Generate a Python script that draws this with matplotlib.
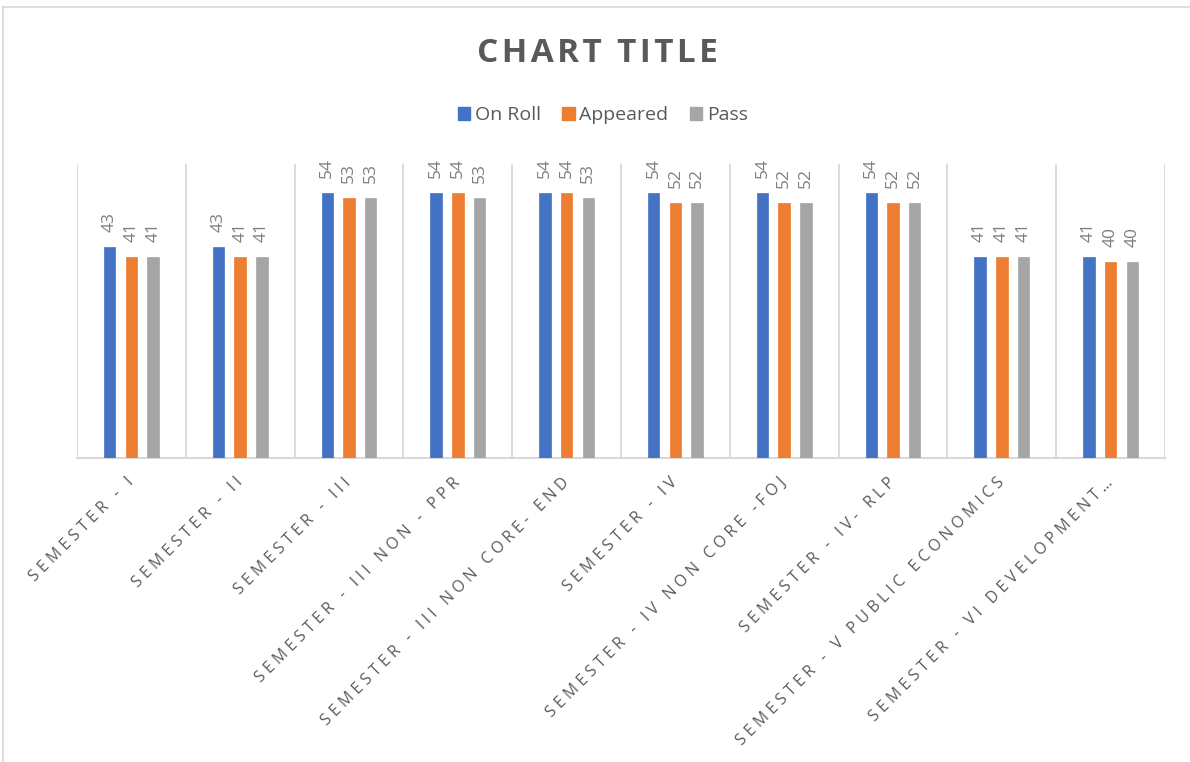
import matplotlib
matplotlib.use("Agg")
import matplotlib.pyplot as plt
import numpy as np
from matplotlib.patches import Patch
from matplotlib.lines import Line2D

plt.rcParams['font.family'] = ['Open Sans', 'DejaVu Sans']

categories = [
    "SEMESTER - I",
    "SEMESTER - II",
    "SEMESTER - III",
    "SEMESTER - III NON - PPR",
    "SEMESTER - III NON CORE- END",
    "SEMESTER - IV",
    "SEMESTER - IV NON CORE -FOJ",
    "SEMESTER - IV- RLP",
    "SEMESTER - V PUBLIC ECONOMICS",
    "SEMESTER - VI DEVELOPMENT…",
]
series_names = ["On Roll", "Appeared", "Pass"]
on_roll = [43, 43, 54, 54, 54, 54, 54, 54, 41, 41]
appeared = [41, 41, 53, 54, 54, 52, 52, 52, 41, 40]
passed = [41, 41, 53, 53, 53, 52, 52, 52, 41, 40]
colors = ["#4472C4", "#ED7D31", "#A5A5A5"]


def spaced(s, sep="\u2009\u200a"):
    return sep.join(list(s))


W, H = 1190, 762
fig = plt.figure(figsize=(W / 100, H / 100), dpi=100)
ax = fig.add_axes([77 / W, 1 - 458 / H, (1165 - 77) / W, (458 - 163.6) / H])

x = np.arange(len(categories))
bw = 0.105
offs = [-0.2, 0.0, 0.2]
for vals, c, o, name in zip([on_roll, appeared, passed], colors, offs, series_names):
    bars = ax.bar(x + o, vals, width=bw, color=c, edgecolor=c, linewidth=0.5, label=name, zorder=3)
    for b, v in zip(bars, vals):
        ax.annotate(str(v), (b.get_x() + b.get_width() / 2, b.get_height()),
                    xytext=(0, 10.5), textcoords="offset points",
                    rotation=90, ha="center", va="bottom",
                    fontsize=12.5, color="#7F7F7F", zorder=4)

ax.set_xlim(-0.5, len(categories) - 0.5)
ax.set_ylim(0, 60)
ax.set_yticks([])
for xb in np.arange(-0.5, len(categories), 1.0):
    ax.axvline(xb, color="#D9D9D9", linewidth=1.3, zorder=1)
for s in ["top", "right", "left"]:
    ax.spines[s].set_visible(False)
ax.spines["bottom"].set_color("#D9D9D9")
ax.spines["bottom"].set_linewidth(1.5)

ax.set_xticks(x)
ax.set_xticklabels([spaced(c) for c in categories], rotation=45, ha="right", va="center",
                   rotation_mode="anchor", fontsize=11.3, color="#595959")
ax.tick_params(axis="x", length=0, pad=16)

fig.text(597 / W, 1 - 53 / H, spaced("CHART TITLE", "\u200a"), ha="center", va="center",
         fontsize=24, fontweight="bold", color="#595959")

handles = [Patch(facecolor=c, edgecolor=c) for c in colors]
fig.legend(handles, series_names, loc="center", bbox_to_anchor=(603 / W, 1 - 115.5 / H),
           ncol=3, frameon=False, fontsize=14, labelcolor="#595959",
           handlelength=0.62, handleheight=0.62, handletextpad=0.25, columnspacing=1.1)

fig.add_artist(Line2D([3 / W, 3 / W], [0, 1 - 7 / H], color="#D9D9D9", linewidth=1.2, transform=fig.transFigure))
fig.add_artist(Line2D([3 / W, 1], [1 - 7 / H, 1 - 7 / H], color="#D9D9D9", linewidth=1.2, transform=fig.transFigure))

fig.savefig("out.png", dpi=100, facecolor="white")
